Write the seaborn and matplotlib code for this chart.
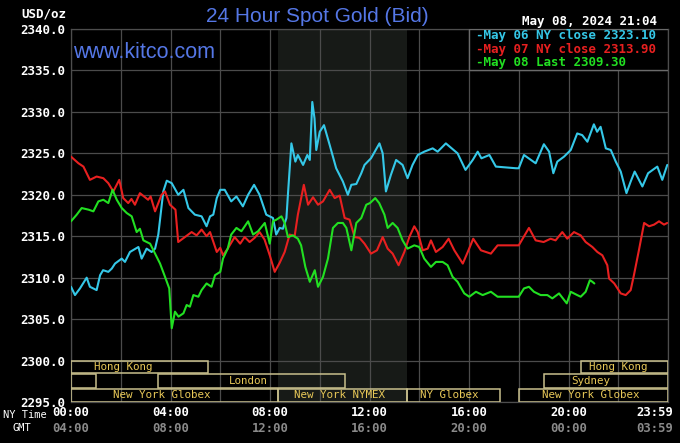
import pandas as pd
import matplotlib.pyplot as plt
import matplotlib.transforms as mtransforms
from matplotlib.patches import Rectangle
import seaborn as sns

# (NY hour, price)
may06_close = [(0.0, 2308.9), (0.16, 2307.9), (0.36, 2308.7), (0.63, 2310.0), (0.76, 2308.9), (1.03, 2308.5),
               (1.17, 2310.3), (1.29, 2310.9), (1.5, 2310.7), (1.64, 2311.1), (1.77, 2311.7), (2.04, 2312.3),
               (2.17, 2311.9), (2.37, 2313.1), (2.71, 2313.7), (2.84, 2312.3), (3.04, 2313.5), (3.24, 2313.1),
               (3.38, 2313.5), (3.51, 2315.2), (3.71, 2320.4), (3.85, 2321.7), (4.05, 2321.4), (4.31, 2320.0),
               (4.52, 2320.6), (4.72, 2318.4), (4.98, 2317.6), (5.25, 2317.4), (5.45, 2316.2), (5.59, 2317.4),
               (5.72, 2317.6), (5.86, 2319.6), (6.0, 2320.6), (6.18, 2320.6), (6.44, 2319.2), (6.65, 2319.8),
               (6.91, 2318.6), (7.12, 2320.0), (7.36, 2321.2), (7.58, 2320.0), (7.85, 2317.6), (8.12, 2317.2),
               (8.25, 2315.2), (8.39, 2316.0), (8.52, 2315.9), (8.66, 2317.2), (8.72, 2320.0), (8.86, 2326.2),
               (9.02, 2324.0), (9.12, 2324.8), (9.33, 2323.6), (9.5, 2324.8), (9.6, 2324.2), (9.7, 2331.2),
               (9.79, 2329.2), (9.86, 2325.4), (10.0, 2327.6), (10.17, 2328.4), (10.4, 2326.0), (10.66, 2323.2),
               (10.93, 2321.6), (11.13, 2320.0), (11.27, 2321.2), (11.47, 2321.3), (11.67, 2322.6), (11.8, 2323.6),
               (12.06, 2324.4), (12.4, 2326.2), (12.53, 2325.0), (12.66, 2320.4), (12.86, 2322.4), (13.07, 2324.2),
               (13.33, 2323.6), (13.53, 2322.0), (13.73, 2323.6), (13.94, 2324.8), (14.2, 2325.2), (14.54, 2325.6),
               (14.74, 2325.2), (15.07, 2326.2), (15.54, 2325.0), (15.86, 2323.0), (16.15, 2324.2), (16.35, 2325.2),
               (16.5, 2324.4), (16.82, 2324.8), (17.08, 2323.4), (17.89, 2323.2), (18.0, 2323.2), (18.21, 2324.8),
               (18.68, 2323.8), (19.01, 2326.1), (19.22, 2325.2), (19.39, 2322.6), (19.55, 2324.0), (19.82, 2324.6),
               (20.09, 2325.4), (20.35, 2327.4), (20.55, 2327.2), (20.76, 2326.4), (21.02, 2328.5), (21.15, 2327.6),
               (21.29, 2328.2), (21.5, 2325.6), (21.7, 2325.4), (21.9, 2324.0), (22.1, 2322.8), (22.33, 2320.2),
               (22.5, 2321.6), (22.66, 2322.8), (22.97, 2321.0), (23.2, 2322.6), (23.57, 2323.4), (23.77, 2321.8),
               (23.97, 2323.6)]

may07_close = [(0.0, 2324.6), (0.3, 2323.8), (0.5, 2323.4), (0.76, 2321.8), (1.03, 2322.2), (1.3, 2322.0),
               (1.5, 2321.4), (1.7, 2320.4), (1.94, 2321.8), (2.1, 2319.6), (2.3, 2319.0), (2.43, 2319.5),
               (2.57, 2318.8), (2.77, 2320.2), (3.1, 2319.4), (3.2, 2319.8), (3.38, 2318.0), (3.64, 2320.0),
               (3.78, 2320.4), (3.98, 2318.8), (4.2, 2318.2), (4.31, 2314.3), (4.58, 2314.9), (4.85, 2315.5),
               (5.05, 2315.1), (5.25, 2315.8), (5.45, 2315.0), (5.59, 2315.5), (5.86, 2313.1), (6.0, 2313.6),
               (6.11, 2312.7), (6.3, 2313.5), (6.58, 2314.9), (6.8, 2314.1), (6.98, 2314.9), (7.18, 2314.3),
               (7.38, 2314.8), (7.58, 2315.5), (7.78, 2314.6), (7.99, 2312.7), (8.19, 2310.7), (8.39, 2311.8),
               (8.59, 2313.1), (8.79, 2315.2), (8.99, 2315.0), (9.12, 2317.6), (9.36, 2321.2), (9.53, 2318.8),
               (9.73, 2319.7), (9.93, 2318.8), (10.13, 2319.2), (10.4, 2320.6), (10.6, 2319.6), (10.8, 2319.9),
               (11.0, 2317.2), (11.2, 2317.0), (11.4, 2314.9), (11.6, 2314.8), (11.8, 2314.1), (12.06, 2312.9),
               (12.3, 2313.3), (12.53, 2314.9), (12.73, 2313.5), (12.93, 2312.9), (13.17, 2311.5), (13.4, 2313.1),
               (13.6, 2314.9), (13.8, 2316.2), (13.94, 2315.5), (14.14, 2313.3), (14.34, 2313.5), (14.47, 2314.5),
               (14.67, 2313.1), (14.94, 2313.7), (15.18, 2314.7), (15.41, 2313.3), (15.75, 2311.7), (15.95, 2313.1),
               (16.17, 2314.7), (16.48, 2313.3), (16.88, 2312.9), (17.15, 2313.9), (17.89, 2313.9), (18.0, 2313.9),
               (18.41, 2316.0), (18.68, 2314.5), (19.0, 2314.3), (19.28, 2314.7), (19.48, 2314.5), (19.75, 2315.5),
               (19.95, 2314.7), (20.22, 2315.5), (20.49, 2315.1), (20.69, 2314.3), (20.96, 2313.7), (21.16, 2313.1),
               (21.36, 2312.7), (21.56, 2311.5), (21.63, 2309.9), (21.84, 2309.3), (22.1, 2308.1), (22.3, 2307.9),
               (22.5, 2308.5), (22.63, 2310.3), (22.83, 2313.3), (23.04, 2316.6), (23.24, 2316.2), (23.44, 2316.4),
               (23.64, 2316.8), (23.84, 2316.4), (23.97, 2316.6)]

may08_last = [(0.0, 2316.8), (0.23, 2317.6), (0.43, 2318.4), (0.71, 2318.2), (0.9, 2318.0), (1.1, 2319.2),
              (1.3, 2319.4), (1.5, 2319.0), (1.67, 2320.6), (1.84, 2319.4), (2.04, 2318.4), (2.24, 2317.8),
              (2.44, 2317.4), (2.64, 2315.5), (2.77, 2315.9), (2.91, 2314.5), (3.18, 2314.1), (3.38, 2312.9),
              (3.58, 2311.7), (3.78, 2310.1), (3.95, 2308.7), (4.05, 2303.9), (4.18, 2305.9), (4.32, 2305.3),
              (4.52, 2305.7), (4.65, 2306.7), (4.78, 2306.5), (4.92, 2307.9), (5.12, 2307.7), (5.25, 2308.5),
              (5.45, 2309.3), (5.65, 2308.9), (5.79, 2310.3), (6.0, 2310.7), (6.11, 2312.3), (6.3, 2313.5),
              (6.44, 2315.2), (6.65, 2316.0), (6.85, 2315.6), (7.12, 2316.8), (7.32, 2315.2), (7.52, 2315.6),
              (7.79, 2316.6), (7.99, 2314.1), (8.12, 2316.8), (8.26, 2317.0), (8.46, 2317.4), (8.59, 2316.6),
              (8.72, 2314.9), (8.92, 2315.1), (9.12, 2314.7), (9.25, 2313.9), (9.42, 2311.3), (9.6, 2309.5),
              (9.8, 2310.9), (9.93, 2308.9), (10.13, 2310.1), (10.33, 2312.3), (10.53, 2316.0), (10.73, 2316.6),
              (10.93, 2316.6), (11.07, 2316.0), (11.27, 2313.3), (11.47, 2316.6), (11.67, 2317.2), (11.87, 2318.8),
              (12.02, 2319.0), (12.23, 2319.6), (12.39, 2319.0), (12.6, 2317.6), (12.73, 2316.0), (12.93, 2316.6),
              (13.13, 2316.0), (13.33, 2314.5), (13.53, 2313.5), (13.8, 2313.9), (14.0, 2313.7), (14.2, 2312.3),
              (14.47, 2311.3), (14.67, 2311.9), (14.94, 2311.9), (15.14, 2311.5), (15.34, 2310.1), (15.54, 2309.5),
              (15.81, 2308.1), (16.01, 2307.7), (16.28, 2308.3), (16.55, 2307.9), (16.88, 2308.3), (17.15, 2307.7),
              (18.0, 2307.7), (18.21, 2308.7), (18.41, 2308.9), (18.61, 2308.3), (18.88, 2307.9), (19.15, 2307.9),
              (19.35, 2307.5), (19.62, 2308.1), (19.93, 2306.9), (20.09, 2308.3), (20.35, 2307.9), (20.49, 2307.7),
              (20.69, 2308.3), (20.86, 2309.7), (20.96, 2309.5), (21.04, 2309.3)]

series_names = ['May 06 NY close', 'May 07 NY close', 'May 08 Last']
series_last = ['2323.10', '2313.90', '2309.30']
series_colors = ['#35c8e8', '#e82020', '#22e022']

y_ticks = [2295, 2300, 2305, 2310, 2315, 2320, 2325, 2330, 2335, 2340]
ny_labels = ['00:00', '04:00', '08:00', '12:00', '16:00', '20:00', '23:59']
gmt_labels = ['04:00', '08:00', '12:00', '16:00', '20:00', '00:00', '03:59']

# trading sessions (NY time)
session_names = ['Hong Kong', 'Hong Kong', '', 'London', 'Sydney',
                 'New York Globex', 'New York NYMEX', 'NY Globex', 'New York Globex']
session_start = [0, 20.5, 0, 3.5, 19.0, 0, 8.33, 13.5, 18.0]
session_end = [5.5, 23.98, 1.0, 11.0, 23.98, 8.33, 13.5, 17.25, 23.98]
session_row = [0, 0, 1, 1, 1, 2, 2, 2, 2]
nymex_pit = (8.33, 13.5)

# layout only
tick_label_x = [0, 4, 8, 12, 16, 20, 23.45]
label_x = [2.1, 22.0, 0.5, 7.15, 20.9, 3.65, 10.8, 15.2, 20.9]
row_bounds = [(2298.45, 2300.0), (2296.65, 2298.35), (2295.05, 2296.55)]

sns.set_theme(style='dark', rc={'axes.facecolor': 'black', 'figure.facecolor': 'black',
                                'axes.edgecolor': '#4d4d4d', 'grid.color': '#4b4b4b'})
mono = 'DejaVu Sans Mono'

frames = []
for name, pts in zip(series_names, [may06_close, may07_close, may08_last]):
    d = pd.DataFrame(pts, columns=['hour', 'price'])
    d['series'] = name
    frames.append(d)
df = pd.concat(frames, ignore_index=True)

fig = plt.figure(figsize=(6.8, 4.43), dpi=100)
ax = fig.add_axes([71 / 680, 1 - 402 / 443, 597 / 680, 373 / 443])

ax.axvspan(nymex_pit[0], nymex_pit[1], color='#171a17', zorder=0.2, lw=0)

sns.lineplot(data=df, x='hour', y='price', hue='series',
             palette=dict(zip(series_names, series_colors)),
             estimator=None, sort=False, linewidth=1.5, legend=False, ax=ax, zorder=3)

ax.set_xlim(0, 24)
ax.set_ylim(2295, 2340)
ax.set_xlabel('')
ax.set_ylabel('')
ax.set_xticks(range(0, 25, 2))
ax.set_xticklabels([])
ax.set_yticks(y_ticks)
ax.set_yticklabels([f'{v:.1f}' for v in y_ticks], family=mono, fontsize=9,
                   fontweight='bold', color='white')
ax.tick_params(length=0, pad=4)
ax.grid(True, color='#4b4b4b', lw=0.9)
ax.set_axisbelow(True)
for s in ax.spines.values():
    s.set_color('#4d4d4d')
    s.set_linewidth(0.9)

# session boxes
for name, x0, x1, row, lx in zip(session_names, session_start, session_end, session_row, label_x):
    y0, y1 = row_bounds[row]
    ax.add_patch(Rectangle((x0, y0), x1 - x0, y1 - y0, fill=False,
                           edgecolor='#c8bf8c', lw=1.1, zorder=4))
    if name:
        ax.text(lx, (y0 + y1) / 2, name, family=mono, fontsize=7.8, color='#e8c858',
                ha='center', va='center', zorder=5)

# legend box
ax.add_patch(Rectangle((16.0, 2335.0), 7.98, 5.0, facecolor='black',
                       edgecolor='#6a6a6a', lw=1.0, zorder=4))
for i, (name, last, col) in enumerate(zip(series_names, series_last, series_colors)):
    ax.text(16.3, 2339.2 - i * 1.65, f'-{name} {last}', family=mono, fontsize=9,
            fontweight='bold', color=col, ha='left', va='center', zorder=5)

ax.text(0.08, 2337.2, 'www.kitco.com', family='Liberation Sans', fontsize=15.5,
        color='#5577e6', ha='left', va='center', zorder=5)

# x labels
trans = mtransforms.blended_transform_factory(ax.transData, fig.transFigure)
for h, ny, gmt in zip(tick_label_x, ny_labels, gmt_labels):
    ax.text(h, 1 - 413 / 443, ny, transform=trans, family=mono, fontsize=8.8,
            fontweight='bold', color='white', ha='center', va='center', clip_on=False)
    ax.text(h, 1 - 428 / 443, gmt, transform=trans, family=mono, fontsize=8.8,
            fontweight='bold', color='#8a8a8a', ha='center', va='center', clip_on=False)

fig.text(25 / 680, 1 - 415 / 443, 'NY Time', family=mono, fontsize=7.5, color='white',
         ha='center', va='center')
fig.text(22 / 680, 1 - 428 / 443, 'GMT', family=mono, fontsize=7.5, color='white',
         ha='center', va='center')

fig.text(317 / 680, 1 - 16 / 443, '24 Hour Spot Gold (Bid)', family='Liberation Sans',
         fontsize=15, color='#5577e6', ha='center', va='center')
fig.text(66 / 680, 1 - 14 / 443, 'USD/oz', family=mono, fontsize=9, fontweight='bold',
         color='white', ha='right', va='center')
fig.text(657 / 680, 1 - 22 / 443, 'May 08, 2024 21:04', family=mono, fontsize=9,
         fontweight='bold', color='white', ha='right', va='center')

plt.savefig('out.png', dpi=100, facecolor='black')
